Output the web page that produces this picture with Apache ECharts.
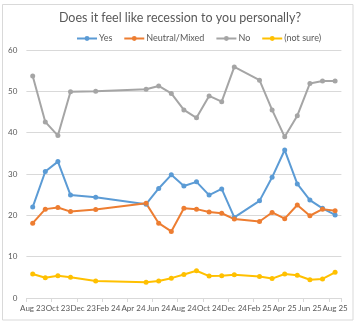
<!DOCTYPE html>
<html>
<head>
<meta charset="utf-8">
<script src="https://cdn.jsdelivr.net/npm/echarts@6/dist/echarts.min.js"></script>
<style>
  html, body { margin: 0; padding: 0; background: #fff; }
  #chart { width: 360px; height: 322px; }
</style>
</head>
<body>
<div id="chart"></div>
<script>
// axis months (one slot per month, labels every other month)
var months = ['Aug 23','Sep 23','Oct 23','Nov 23','Dec 23','Jan 24','Feb 24','Mar 24','Apr 24',
  'May 24','Jun 24','Jul 24','Aug 24','Sep 24','Oct 24','Nov 24','Dec 24','Jan 25','Feb 25',
  'Mar 25','Apr 25','May 25','Jun 25','Jul 25','Aug 25'];

// months that have a survey
var surveyMonths = ['Aug 23','Sep 23','Oct 23','Nov 23','Jan 24','May 24','Jun 24','Jul 24',
  'Aug 24','Sep 24','Oct 24','Nov 24','Dec 24','Feb 25','Mar 25','Apr 25','May 25','Jun 25',
  'Jul 25','Aug 25'];

var yesVals     = [22.0, 30.6, 33.0, 24.9, 24.4, 22.7, 26.5, 29.8, 27.1, 28.1, 24.9, 26.4, 19.5, 23.5, 29.2, 35.8, 27.6, 23.7, 21.7, 20.1];
var neutralVals = [18.1, 21.5, 21.9, 20.9, 21.4, 22.9, 18.1, 16.1, 21.7, 21.5, 20.8, 20.5, 19.1, 18.5, 20.7, 19.2, 22.5, 19.9, 21.5, 21.1];
var noVals      = [53.7, 42.6, 39.3, 49.9, 50.0, 50.5, 51.3, 49.5, 45.5, 43.6, 48.9, 47.5, 55.9, 52.7, 45.5, 39.0, 44.1, 51.9, 52.5, 52.5];
var notSureVals = [5.8, 4.9, 5.4, 5.0, 4.1, 3.8, 4.1, 4.8, 5.7, 6.6, 5.3, 5.4, 5.6, 5.2, 4.7, 5.8, 5.5, 4.4, 4.6, 6.2];

var seriesNames  = ['Yes', 'Neutral/Mixed', 'No', '(not sure)'];
var seriesColors = ['#5B9BD5', '#ED7D31', '#A5A5A5', '#FFC000'];

// spread survey values over the monthly axis, gaps left as null
function toMonthly(vals) {
    return months.map(function (m) {
        var i = surveyMonths.indexOf(m);
        return i >= 0 ? vals[i] : null;
    });
}

var font = 'Lato';
var chart = echarts.init(document.getElementById('chart'), null, { renderer: 'canvas' });

var series = [yesVals, neutralVals, noVals, notSureVals].map(function (vals, k) {
    return {
        name: seriesNames[k],
        type: 'line',
        data: toMonthly(vals),
        connectNulls: true,
        symbol: 'circle',
        symbolSize: 5,
        lineStyle: { width: 2, color: seriesColors[k] },
        itemStyle: { color: seriesColors[k] },
        animation: false
    };
});

chart.setOption({
    backgroundColor: '#fff',
    color: seriesColors,
    title: {
        text: 'Does it feel like recession to you personally?',
        left: 'center',
        top: 6,
        textStyle: { fontFamily: font, fontSize: 12.5, fontWeight: 'normal', color: '#595959' }
    },
    legend: {
        data: seriesNames,
        left: 71,
        top: 29,
        itemWidth: 20,
        itemHeight: 6,
        itemGap: 11,
        textStyle: { fontFamily: font, fontSize: 9, color: '#595959', padding: [0, 0, 0, -3] }
    },
    grid: { left: 26.4, right: 18.6, top: 50, bottom: 24 },
    xAxis: {
        type: 'category',
        data: months,
        boundaryGap: true,
        axisLine: { lineStyle: { color: '#d9d9d9' } },
        axisTick: { show: true, interval: 1, length: 4, lineStyle: { color: '#d9d9d9' } },
        axisLabel: { interval: 1, fontFamily: font, fontSize: 8, color: '#595959', margin: 6 },
        splitLine: { show: false }
    },
    yAxis: {
        type: 'value',
        min: 0,
        max: 60,
        interval: 10,
        axisLine: { show: false },
        axisTick: { show: false },
        axisLabel: { fontFamily: font, fontSize: 8, color: '#595959', margin: 9 },
        splitLine: { lineStyle: { color: '#d9d9d9', width: 1 } }
    },
    graphic: [{
        type: 'rect',
        shape: { x: 2.5, y: 4.5, width: 350.5, height: 315.5 },
        style: { fill: 'none', stroke: '#d9d9d9', lineWidth: 1 },
        silent: true
    }],
    series: series
});
</script>
</body>
</html>
